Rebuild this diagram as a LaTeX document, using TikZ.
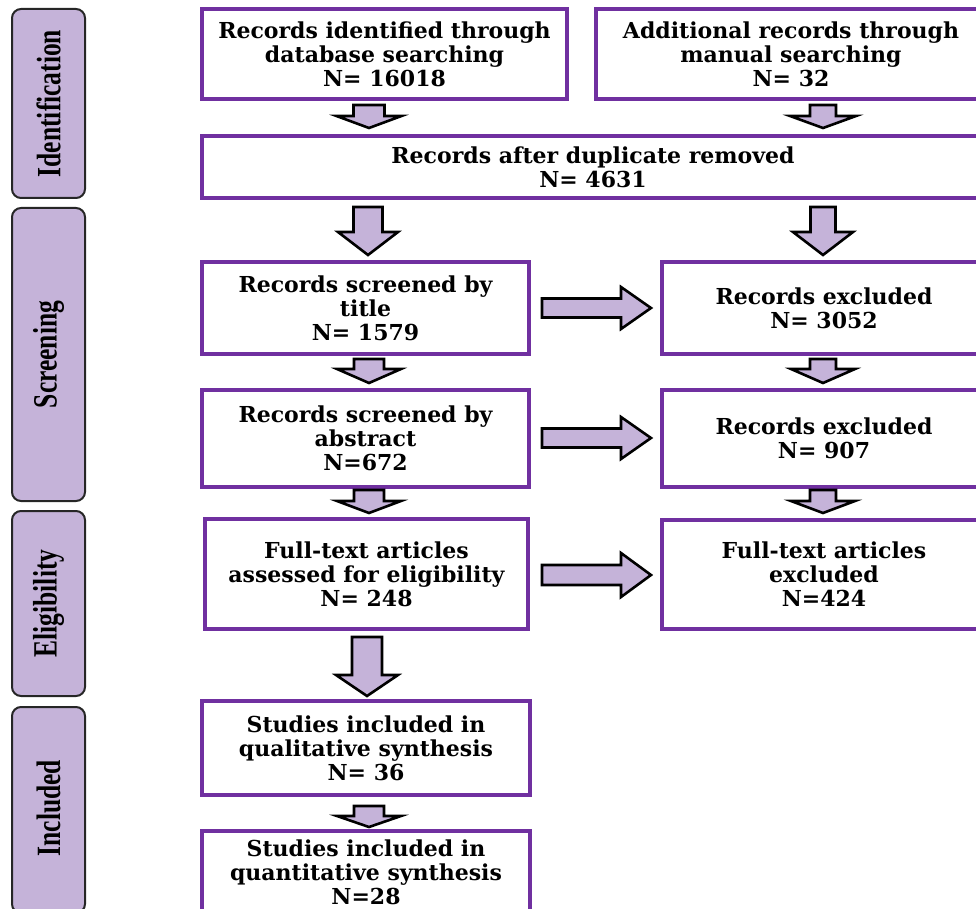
\documentclass[tikz,border=0pt]{standalone}
\usepackage{fontspec}
\setmainfont{DejaVu Serif}
\newfontfamily\labelfont{Liberation Serif}
\definecolor{boxpurple}{HTML}{7030A0}
\definecolor{lav}{HTML}{C5B3D9}
\newcommand\dnarrow[6]{%
  \draw[blockarr] (#1-#5,#2) -- (#1+#5,#2) -- (#1+#5,#3) -- (#1+#6,#3) -- (#1,#4) -- (#1-#6,#3) -- (#1-#5,#3) -- cycle;}
\newcommand\rtarrow[6]{%
  \draw[blockarr] (#2,#1-#5) -- (#3,#1-#5) -- (#3,#1-#6) -- (#4,#1) -- (#3,#1+#6) -- (#3,#1+#5) -- (#2,#1+#5) -- cycle;}
\tikzset{
  flowbox/.style={draw=boxpurple, line width=3.5pt, fill=white, align=center,
    font=\bfseries\fontsize{22}{24}\selectfont, inner sep=0pt},
  stagebox/.style={draw=black!85, line width=2pt, fill=lav, rounded corners=9pt,
    minimum width=73pt, inner sep=0pt},
  blockarr/.style={draw=black, line width=2.6pt, fill=lav, line join=miter},
  stagetext/.style={rotate=90, font=\labelfont\bfseries\fontsize{34}{34}\selectfont}
}
\begin{document}
\begin{tikzpicture}[x=1pt,y=-1pt]
\useasboundingbox (0,0) rectangle (976,909);
\clip (0,0) rectangle (976,909);
% stage labels
\node[stagebox, minimum height=189pt] (sid) at (48.5,103.5) {};
\node[stagetext] at (sid.center) {\scalebox{0.75}[1]{Identification}};
\node[stagebox, minimum height=293pt] (ssc) at (48.5,354.5) {};
\node[stagetext] at (ssc.center) {\scalebox{0.75}[1]{Screening}};
\node[stagebox, minimum height=185pt] (sel) at (48.5,603.5) {};
\node[stagetext] at (sel.center) {\scalebox{0.75}[1]{Eligibility}};
\node[stagebox, minimum height=206pt] (sin) at (48.5,810) {};
\node[stagetext] at (48.5,808) {\scalebox{0.75}[1]{Included}};
% boxes
\node[flowbox, minimum width=365pt, minimum height=90pt] (b1) at (384.5,54) {Records identified through\\database searching\\N= 16018};
\node[flowbox, minimum width=390pt, minimum height=90pt] (b2) at (791,54) {Additional records through\\manual searching\\N= 32};
\node[flowbox, minimum width=782pt, minimum height=62pt] (b3) at (593,167) {Records after duplicate removed\\N= 4631};
\node[flowbox, minimum width=327pt, minimum height=92pt] (b4) at (365.5,308) {Records screened by\\title\\N= 1579};
\node[flowbox, minimum width=324pt, minimum height=92pt] (b5) at (824,308) {Records excluded\\N= 3052};
\node[flowbox, minimum width=327pt, minimum height=97pt] (b6) at (365.5,438.5) {Records screened by\\abstract\\N=672};
\node[flowbox, minimum width=324pt, minimum height=97pt] (b7) at (824,438.5) {Records excluded\\N= 907};
\node[flowbox, minimum width=323pt, minimum height=110pt] (b8) at (366.5,574) {Full-text articles\\assessed for eligibility\\N= 248};
\node[flowbox, minimum width=324pt, minimum height=109pt] (b9) at (824,574.5) {Full-text articles\\excluded\\N=424};
\node[flowbox, minimum width=328pt, minimum height=94pt] (b10) at (366,748) {Studies included in\\qualitative synthesis\\N= 36};
\node[flowbox, minimum width=328pt, minimum height=82pt] (b11) at (366,872) {Studies included in\\quantitative synthesis\\N=28};
% down arrows
\dnarrow{369}{105}{116}{128}{15.5}{32.5}
\dnarrow{823}{105}{116}{128}{13}{33}
\dnarrow{368}{207}{232}{255}{14.5}{30}
\dnarrow{823}{207}{232}{255}{12.5}{30}
\dnarrow{369}{359}{369}{383}{15}{32}
\dnarrow{823}{359}{369}{383}{13}{32}
\dnarrow{369}{490}{501}{513}{15}{32}
\dnarrow{823}{490}{501}{513}{13}{32}
\dnarrow{367}{637}{675}{696}{15}{31}
\dnarrow{369}{806}{816}{827}{15}{32}
% right arrows
\rtarrow{308}{542}{621}{651}{9.5}{21}
\rtarrow{438}{542}{621}{651}{9.5}{21}
\rtarrow{575}{542}{621}{651}{10}{22}
\end{tikzpicture}
\end{document}
